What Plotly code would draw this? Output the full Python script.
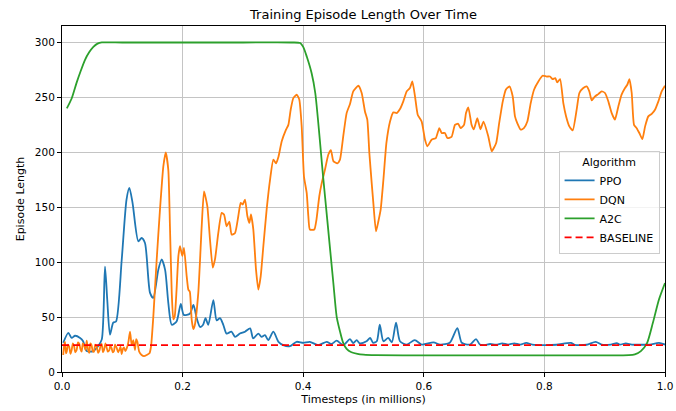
import plotly.graph_objects as go

# Timesteps (in millions) and smoothed episode lengths per algorithm
ppo_x = [0.002, 0.0105, 0.016, 0.0216, 0.030, 0.035, 0.041, 0.052, 0.060, 0.066, 0.0713, 0.075, 0.0796,
         0.085, 0.0896, 0.099, 0.107, 0.1117, 0.117, 0.1266, 0.132, 0.1376, 0.146, 0.1514, 0.1597, 0.1653,
         0.171, 0.1763, 0.182, 0.190, 0.197, 0.202, 0.212, 0.218, 0.2234, 0.229, 0.234, 0.238, 0.2426,
         0.251, 0.2565, 0.262, 0.2675, 0.273, 0.281, 0.287, 0.295, 0.3035, 0.312, 0.317, 0.3255, 0.331,
         0.3366, 0.342, 0.3505, 0.359, 0.367, 0.378, 0.389, 0.400, 0.411, 0.425, 0.439, 0.447, 0.4555,
         0.4665, 0.4776, 0.483, 0.4887, 0.494, 0.505, 0.511, 0.516, 0.522, 0.527, 0.533, 0.541, 0.547,
         0.554, 0.5605, 0.5716, 0.585, 0.5965, 0.616, 0.627, 0.643, 0.6556, 0.663, 0.6766, 0.6866, 0.693,
         0.70, 0.71, 0.72, 0.73, 0.74, 0.75, 0.76, 0.77, 0.78, 0.80, 0.82, 0.844, 0.85, 0.87, 0.885,
         0.895, 0.91, 0.92, 0.925, 0.935, 0.945, 0.96, 0.975, 0.99, 1.0]
ppo_y = [26.6, 35.7, 31, 33, 31, 28, 19, 19, 23.6, 29.7, 96, 66, 34,
         45, 46, 102, 157, 167.6, 154, 119, 122, 117.5, 72, 67.5, 93, 102.5,
         93, 63, 43, 46, 62, 52, 53, 61, 49, 41, 43, 49, 43,
         65.5, 47, 49, 43, 35, 36.7, 32, 35, 36.7, 39.7, 30.6, 35, 32,
         33.6, 29, 36.7, 27.5, 24.5, 23.6, 27.5, 26.6, 27.5, 24.5, 27.5, 25.5, 28.5,
         24.5, 30, 26.3, 29, 26, 28, 31, 26.6, 28, 43, 28, 31, 27,
         45, 28, 25, 29, 25, 27, 25, 26.6, 40, 26.6, 25, 30, 25,
         24.5, 25.5, 24.8, 26, 25, 26, 25, 26.5, 25, 24.5, 24.8, 26.5, 24.8, 24.8, 27.5,
         25, 25, 26.2, 25, 26, 25, 24.8, 25, 26.5, 25]

dqn_x = [0.002, 0.0035, 0.005, 0.0065, 0.0078, 0.010, 0.012, 0.014, 0.016, 0.018, 0.020, 0.022, 0.0243,
         0.0265, 0.0287, 0.0305, 0.0326, 0.0345, 0.0365, 0.039, 0.041, 0.043, 0.0453, 0.047, 0.049,
         0.051, 0.053, 0.055, 0.0575, 0.060, 0.062, 0.064, 0.0658, 0.068, 0.0697, 0.072, 0.074, 0.076,
         0.0785, 0.080, 0.0824, 0.084, 0.0862, 0.088, 0.0907, 0.093, 0.095, 0.097, 0.099, 0.101, 0.1028,
         0.105, 0.1073, 0.110, 0.1128, 0.1156, 0.1183, 0.121, 0.123, 0.125, 0.128, 0.132, 0.136, 0.1405,
         0.145, 0.1476, 0.1514,
         0.157, 0.1625, 0.168, 0.172, 0.1763, 0.179, 0.182, 0.1846, 0.187, 0.190, 0.193, 0.1957, 0.1995,
         0.2023, 0.2068, 0.2095, 0.212, 0.215, 0.2178, 0.22, 0.226, 0.2317, 0.2355, 0.241, 0.2454, 0.25,
         0.2537, 0.2592, 0.2648, 0.2687, 0.273, 0.2775, 0.2814, 0.287, 0.2924, 0.2963, 0.2996, 0.3035,
         0.3074, 0.3107, 0.3134, 0.3173, 0.3217, 0.3256, 0.3295, 0.3339, 0.3394, 0.345, 0.3505, 0.355,
         0.359, 0.3644, 0.3715, 0.3754, 0.3793, 0.3836, 0.3892, 0.3935, 0.3975, 0.4013, 0.4058, 0.4085,
         0.411, 0.4184, 0.422, 0.4267, 0.4307, 0.436, 0.4417, 0.446, 0.45, 0.4566, 0.461, 0.4665, 0.472,
         0.4776, 0.483, 0.4914, 0.497, 0.5025, 0.5063, 0.5097, 0.5136, 0.5163, 0.5207, 0.5246, 0.5285,
         0.533, 0.538, 0.544, 0.5494, 0.555, 0.5605, 0.566, 0.5716, 0.577, 0.581, 0.5854, 0.59, 0.5965,
         0.602, 0.606, 0.613, 0.620, 0.6257, 0.6296, 0.635, 0.639, 0.646, 0.6517, 0.657, 0.661, 0.6667,
         0.670, 0.6738, 0.6793, 0.683, 0.6887, 0.694, 0.699, 0.707, 0.7126, 0.72, 0.725, 0.731, 0.736,
         0.742, 0.7474, 0.7512, 0.755, 0.7607, 0.766, 0.7717, 0.7773, 0.7828, 0.79, 0.797, 0.8038, 0.8093,
         0.8137, 0.818, 0.8214, 0.826, 0.8314, 0.836, 0.8414, 0.847, 0.8535, 0.858, 0.8645, 0.870, 0.8745,
         0.8784, 0.884, 0.8894, 0.895, 0.9005, 0.906, 0.9116, 0.917, 0.9226, 0.928, 0.9337, 0.9375, 0.941,
         0.9448, 0.9486, 0.953, 0.9574, 0.9624, 0.967, 0.9723, 0.978, 0.9834, 0.989, 0.9945, 1.0]
dqn_y = [15.5, 24, 27.5, 17, 18.5, 25, 23, 16.5, 20, 26, 23.6, 18, 20,
         27, 25.5, 21, 18.5, 26, 24.5, 20, 28.5, 21, 17.5, 26, 24.5,
         19, 18.5, 25, 23, 17.5, 19.4, 24, 25.5, 18, 20, 26, 22.4, 18.5,
         20, 24, 21.5, 18, 19, 25, 22, 18, 20, 23, 16.4, 21, 22.4,
         19, 21.5, 27, 36.7, 24.5, 29, 20, 30, 27.5, 18.5, 15.5, 14.5, 15.5,
         17, 23, 50,
         102, 148, 187, 200, 184, 133, 72, 48, 51, 75, 105.5, 114.5, 105.5,
         113, 87, 75, 73, 48, 39, 42, 72, 133, 164.5, 151, 120.6, 95,
         102.5, 126.6, 144.8, 143.3, 132.7, 137, 125, 126.6, 142, 154, 152.5, 157,
         142, 135.7, 143.4, 129.7, 93.4, 75, 87, 114.5, 148, 175, 193.4, 190,
         196, 210, 220.6, 225, 239, 249.4, 252.5, 248, 223.6, 178, 163, 142,
         129.7, 129.7, 138.8, 160, 172, 184, 198, 202, 192, 190, 193.4, 215, 235.7,
         244, 255.5, 260.6, 254, 237, 229.7, 199.4, 172, 154, 128, 137, 148,
         175, 208.5, 228, 236.4, 235.7, 239.4, 246.4, 255.5, 258.5, 264.5, 251, 234, 228,
         211.5, 205.5, 211.5, 213, 222, 217.6, 217.6, 213, 214, 225, 226, 222, 225,
         235.7, 241, 225, 221, 231, 221, 228, 214.5, 201, 208.5, 226.6, 246.4, 257,
         260, 251, 232.7, 226.6, 220.6, 222, 228, 244.8, 257, 264.5, 269.7, 269, 269,
         266.6, 267.5, 263.6, 266.6, 244.8, 232.7, 223.6, 220, 238.8, 254, 258.5, 260, 255.5,
         247.3, 251, 253, 255.5, 254, 246.4, 235.7, 229.7, 241.8, 252.5, 258.5, 261.5, 266.6,
         254, 225, 222, 217.6, 212, 223.6, 232.7, 235, 238.8, 246.4, 255.5, 260.6]

a2c_x = [0.008, 0.016, 0.024, 0.031, 0.038, 0.045, 0.052, 0.059, 0.066, 0.1, 0.2, 0.3, 0.38, 0.395,
         0.40, 0.406, 0.414, 0.42, 0.433, 0.44, 0.45, 0.4556, 0.461, 0.466, 0.472, 0.48, 0.49, 0.50,
         0.52, 0.6, 0.8, 0.94, 0.95, 0.96, 0.97, 0.98, 0.99, 1.0]
a2c_y = [240, 249, 263, 274, 284, 291, 296, 299, 300, 300, 300, 300, 300, 299.5,
         296, 287, 272, 254, 178, 138, 81, 50, 37, 27, 21, 18, 16.5, 15.8,
         15.3, 15.2, 15.2, 15.3, 16, 19, 26, 45, 66, 81]

baseline_value = 24.5
x_ticks = [0.0, 0.2, 0.4, 0.6, 0.8, 1.0]
y_ticks = [0, 50, 100, 150, 200, 250, 300]

FONT = "DejaVu Sans"
fig = go.Figure()

line_kw = dict(shape="spline", smoothing=0.7, width=1.8)
fig.add_trace(go.Scatter(x=ppo_x, y=ppo_y, mode="lines", name="PPO",
                         line=dict(color="#1f77b4", **line_kw)))
fig.add_trace(go.Scatter(x=dqn_x, y=dqn_y, mode="lines", name="DQN",
                         line=dict(color="#ff7f0e", shape="spline", smoothing=0.5, width=1.8)))
fig.add_trace(go.Scatter(x=a2c_x, y=a2c_y, mode="lines", name="A2C",
                         line=dict(color="#2ca02c", **line_kw)))
fig.add_trace(go.Scatter(x=[0.0, 1.0], y=[baseline_value, baseline_value], mode="lines",
                         name="BASELINE",
                         line=dict(color="#ff0000", width=1.8, dash="7px,4px")))

axis_common = dict(
    showline=True, linecolor="#000000", linewidth=1, mirror=True,
    ticks="outside", ticklen=4, tickwidth=1, tickcolor="#000000",
    showgrid=True, gridcolor="#c4c4c4", gridwidth=1, zeroline=False,
    tickfont=dict(family=FONT, size=10.5, color="#000000"),
    automargin=False,
)

fig.update_layout(
    width=676, height=411,
    margin=dict(l=62, r=11, t=26, b=39),
    paper_bgcolor="white", plot_bgcolor="white",
    font=dict(family=FONT, size=11, color="#000000"),
    title=dict(text="Training Episode Length Over Time", x=0.5, xref="paper",
               y=1 - 14 / 411, yref="container", yanchor="middle",
               font=dict(family=FONT, size=13, color="#000000")),
    xaxis=dict(range=[0, 1], tickvals=x_ticks, tickformat=".1f",
               title=dict(text="Timesteps (in millions)", standoff=4,
                          font=dict(family=FONT, size=11)),
               **axis_common),
    yaxis=dict(range=[0, 315], tickvals=y_ticks,
               title=dict(text="Episode Length", standoff=8,
                          font=dict(family=FONT, size=11)),
               **axis_common),
    legend=dict(
        title=dict(text="Algorithm", side="top center", font=dict(family=FONT, size=11)),
        x=0.991, y=0.64, xanchor="right", yanchor="top",
        bgcolor="rgba(255,255,255,0.8)", bordercolor="#cccccc", borderwidth=1,
        font=dict(family=FONT, size=11), itemwidth=30, tracegroupgap=0,
    ),
    showlegend=True,
)

fig.write_html("out.html")
